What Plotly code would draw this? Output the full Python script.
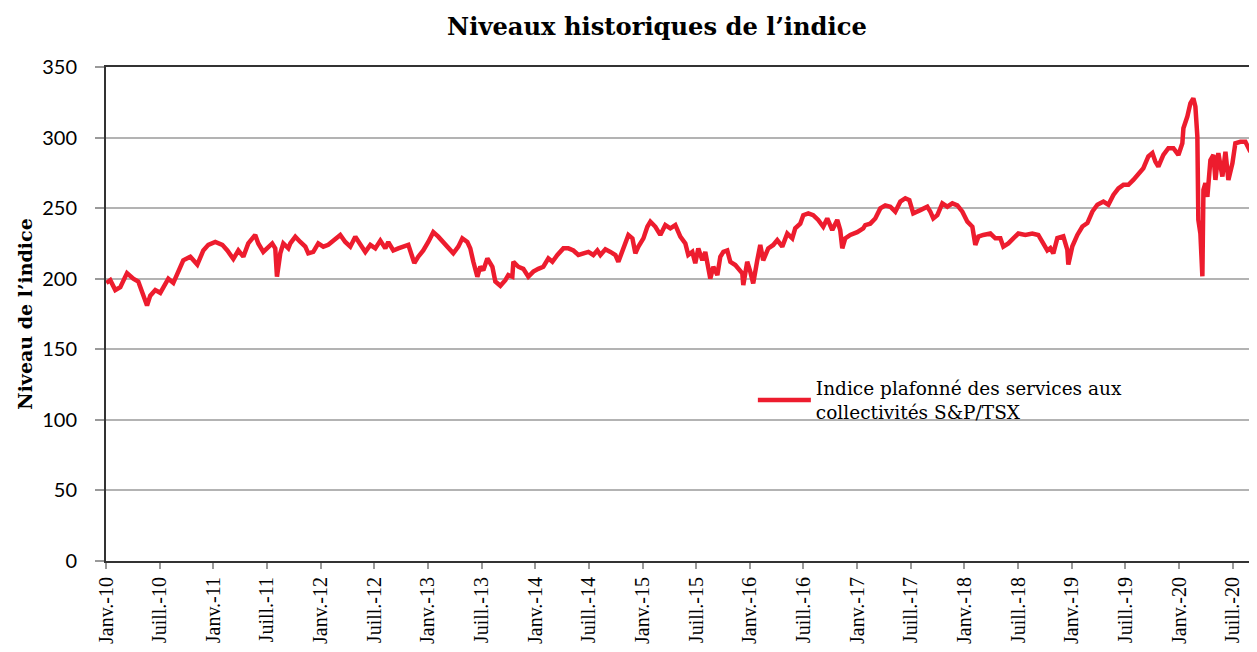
import plotly.graph_objects as go

# Months elapsed since January 2010
months = [
    0.03, 0.48, 1.04, 1.60, 2.35, 3.05, 3.61, 4.17, 4.59, 4.95, 5.51, 6.07, 6.41, 6.97, 7.53, 8.09, 8.64, 9.43,
    10.21, 10.88, 11.44, 12.22, 13.01, 13.57, 14.24, 14.80, 15.36, 15.91, 16.69, 17.03, 17.59, 18.59, 18.93,
    19.12, 19.49, 19.83, 20.39, 20.61, 21.17, 21.73, 22.29, 22.62, 23.18, 23.74, 24.30, 24.86, 25.42, 26.20,
    26.76, 27.32, 27.88, 28.44, 29.00, 29.56, 30.12, 30.68, 31.24, 31.57, 32.13, 32.69, 33.25, 33.81, 34.25,
    34.48, 34.92, 35.48, 36.04, 36.60, 37.16, 37.72, 38.28, 38.84, 39.40, 39.85, 40.41, 40.74, 41.08, 41.53,
    41.86, 42.20, 42.65, 43.21, 43.54, 44.10, 44.66, 44.99, 45.44, 45.56, 46.11, 46.67, 47.23, 47.79, 48.35,
    48.91, 49.47, 49.92, 50.48, 51.15, 51.71, 52.27, 52.83, 53.39, 53.95, 54.50, 54.95, 55.29, 55.85, 56.41,
    56.97, 57.30, 57.75, 58.09, 58.42, 58.87, 59.20, 59.54, 60.10, 60.54, 60.88, 61.44, 61.99, 62.55, 63.11,
    63.67, 64.23, 64.79, 65.12, 65.57, 65.90, 66.24, 66.69, 67.02, 67.58, 67.92, 68.37, 68.70, 69.04, 69.48,
    69.82, 70.38, 70.71, 71.16, 71.27, 71.71, 72.05, 72.38, 72.83, 73.17, 73.50, 74.06, 74.62, 75.07, 75.63,
    76.19, 76.75, 77.08, 77.64, 77.98, 78.54, 79.09, 79.65, 80.21, 80.66, 81.22, 81.78, 82.11, 82.34, 82.67,
    83.23, 84.01, 84.68, 84.91, 85.47, 86.03, 86.59, 87.15, 87.71, 88.27, 88.83, 89.39, 89.84, 90.28, 91.07,
    91.85, 92.19, 92.52, 92.97, 93.53, 94.09, 94.65, 95.21, 95.77, 96.33, 96.89, 97.22, 97.56, 98.11, 98.90,
    99.46, 100.02, 100.35, 100.91, 101.47, 102.03, 102.81, 103.59, 104.26, 104.82, 105.27, 105.61, 105.94,
    106.39, 107.06, 107.51, 107.62, 108.07, 108.63, 109.19, 109.75, 110.31, 110.87, 111.54, 112.10, 112.66,
    113.22, 113.78, 114.34, 114.89, 115.45, 116.01, 116.57, 117.02, 117.35, 117.69, 118.25, 118.81, 119.37,
    119.93, 120.37, 120.49, 120.93, 121.27, 121.60, 121.83, 122.05, 122.16, 122.39, 122.61, 122.73, 122.95,
    123.17, 123.29, 123.51, 123.85, 124.07, 124.40, 124.85, 125.19, 125.52, 125.97, 126.30, 126.86, 127.42,
    127.98, 128.31, 128.76,
]

index_level = [
    197, 199, 192, 194, 204, 200, 198, 188, 181, 188, 192, 190, 194, 200, 197, 206, 213, 215.6,
    210, 220, 224, 226, 224, 220, 214, 220, 215.6, 225, 231, 225, 219, 225, 221.5,
    201.4, 218, 225, 221.5, 225, 229.8, 226, 222.7, 218, 219, 225, 222.7, 224, 227, 231,
    226, 222.7, 229.8, 224, 219, 224, 221.5, 227, 221.5, 226, 220, 221.5, 222.7, 224, 215.6,
    211, 215.6, 220, 226, 233, 229.8, 226, 221.5, 218, 222.7, 228.6, 226, 221.5, 212, 201.4,
    208.5, 206, 214.4, 208.5, 198, 195, 199, 202.6, 201.4, 212, 208.5, 207, 201.4, 205, 207,
    208.5, 214.4, 212, 216.8, 221.5, 221.5, 220, 216.8, 218, 219, 216.8, 220, 216.8, 220.8, 219,
    216.8, 212, 220, 223.9, 231, 228.6, 218, 222.7, 228.6, 236.8, 240.4, 236.8, 231, 238, 235.7,
    238, 229.8, 225, 216.8, 219, 211, 221.5, 213, 219, 200, 208.5, 202.6, 215.6, 219, 220,
    212, 209.7, 207, 203.8, 195.5, 212, 205, 196.7, 213, 223.9, 213, 221.5, 223.9, 227.4, 222.7,
    232, 228.6, 235.7, 239, 245, 246.3, 245, 241.6, 236.8, 242.7, 234.5, 241.6, 234.5, 221.5, 228.6,
    231, 233, 235.7, 238, 239, 242.7, 249.8, 252, 251, 247.5, 254.6, 257, 255.7, 246.3, 248.6,
    251, 247.5, 242.7, 245, 253.4, 251, 253.4, 252, 247.5, 240.4, 236.8, 223.9, 229.8, 231, 232,
    228.6, 228.6, 222.7, 225, 228.6, 232, 231, 232, 231, 225, 220, 221.7, 218,
    228.8, 230, 220.5, 210, 223, 231, 237, 239.4, 247.6, 252.4, 254.7, 252.4, 259.4,
    264, 266.5, 266.5, 270, 274.8, 278.3, 286.6, 289, 283, 279.5, 287.7, 292.5, 292.5,
    287.7, 296, 306.6, 314.9, 324.3, 327.8, 322, 300.7, 241.7, 232, 201.7, 263, 267.7,
    258, 272.4, 284, 287.7, 270, 289, 272.4, 290, 270, 281.8, 296, 297, 297,
    290, 300.7, 312.5,
]

tick_months = [0, 6, 12, 18, 24, 30, 36, 42, 48, 54, 60, 66, 72, 78, 84, 90, 96, 102, 108, 114, 120, 126]
tick_labels = [
    "Janv.-10", "Juill.-10", "Janv.-11", "Juill.-11", "Janv.-12", "Juill.-12", "Janv.-13", "Juill.-13",
    "Janv.-14", "Juill.-14", "Janv.-15", "Juill.-15", "Janv.-16", "Juill.-16", "Janv.-17", "Juill.-17",
    "Janv.-18", "Juill.-18", "Janv.-19", "Juill.-19", "Janv.-20", "Juill.-20",
]

series_name = "Indice plafonné des services aux<br>collectivités S&P/TSX"

fig = go.Figure()
fig.add_trace(go.Scatter(
    x=months, y=index_level, mode="lines", name=series_name,
    line=dict(color="#ED1C2E", width=4.5),
))

serif = "Liberation Serif"
wide_serif = "DejaVu Serif"
fig.update_layout(
    width=1249, height=636,
    margin=dict(l=98, r=0, t=59, b=83),
    paper_bgcolor="white", plot_bgcolor="white",
    title=dict(text="<b>Niveaux historiques de l’indice</b>", x=0.5196, xanchor="center",
               y=1 - 19 / 636, yanchor="middle", font=dict(family=wide_serif, size=24.2, color="black")),
    showlegend=True,
    legend=dict(x=0.562, y=0.388, xanchor="left", yanchor="top", bgcolor="rgba(0,0,0,0)",
                font=dict(family=wide_serif, size=18.5, color="black"), itemwidth=53, tracegroupgap=0),
    xaxis=dict(
        range=[0, 128.72], tickmode="array", tickvals=tick_months, ticktext=tick_labels,
        tickangle=-90, ticks="outside", ticklen=6, tickcolor="#999999", tickwidth=1.5,
        tickfont=dict(family=serif, size=20, color="black"),
        showgrid=False, zeroline=False, showline=True, linecolor="#333333", linewidth=2, mirror=True,
    ),
    yaxis=dict(
        range=[0, 350], tickmode="array", tickvals=[0, 50, 100, 150, 200, 250, 300, 350],
        ticks="outside", ticklen=9, tickcolor="#999999", tickwidth=1.5, ticklabelstandoff=14,
        tickfont=dict(family="Lato", size=20, color="black"),
        showgrid=True, gridcolor="#B3B3B3", gridwidth=2, zeroline=False,
        showline=True, linecolor="#333333", linewidth=2,
        title=dict(text="<b>Niveau de l’indice</b>", font=dict(family=wide_serif, size=19, color="black"),
                   standoff=5),
    ),
)

fig.write_html("out.html")
